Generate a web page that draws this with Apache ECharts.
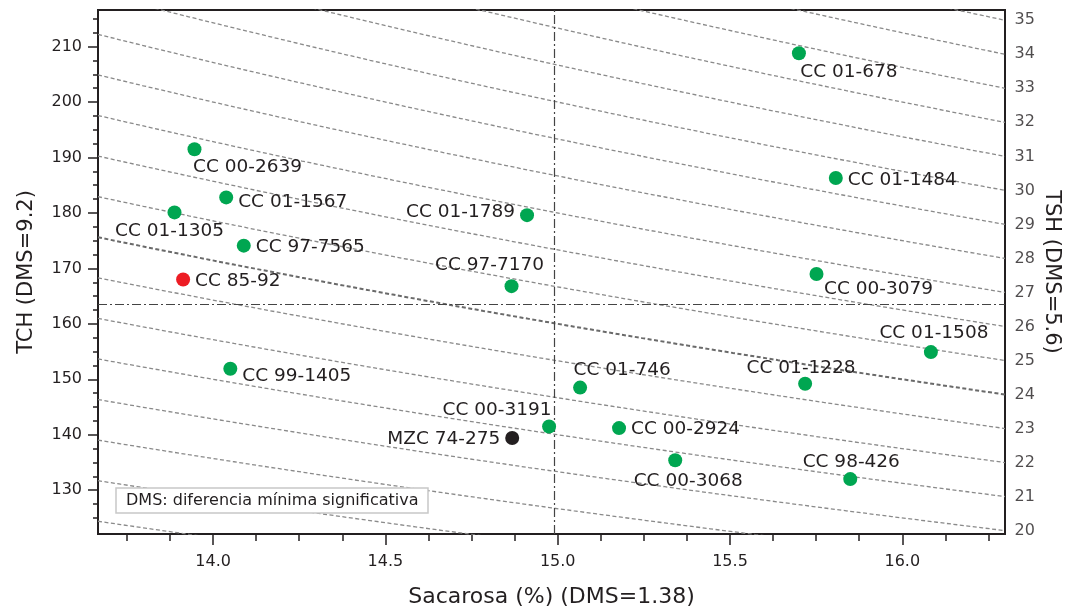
<!DOCTYPE html>
<html><head><meta charset="utf-8">
<script src="https://cdn.jsdelivr.net/npm/echarts@6/dist/echarts.min.js"></script>
<style>html,body{margin:0;padding:0;background:#fff}#c{width:1074px;height:613px}</style>
</head><body><div id="c"></div>
<script>
// ---------- DATA ----------
const varieties = ['CC 01-678','CC 00-2639','CC 01-1484','CC 01-1567','CC 01-1789','CC 01-1305','CC 97-7565','CC 97-7170','CC 00-3079','CC 85-92','CC 01-1508','CC 99-1405','CC 01-746','CC 01-1228','CC 00-3191','CC 00-2924','MZC 74-275','CC 00-3068','CC 98-426'];
const sacarosa  = [15.70, 13.946, 15.807, 14.038, 14.911, 13.888, 14.089, 14.866, 15.751, 13.913, 16.083, 14.050, 15.065, 15.718, 14.975, 15.178, 14.868, 15.341, 15.849];
const tch       = [208.8, 191.5, 186.3, 182.8, 179.6, 180.1, 174.1, 166.8, 169.0, 168.0, 154.9, 151.9, 148.5, 149.2, 141.5, 141.2, 139.4, 135.4, 132.0];
const tshLevels = [17,18,19,20,21,22,23,24,25,26,27,28,29,30,31,32,33,34,35];
const tshLabels = [20,21,22,23,24,25,26,27,28,29,30,31,32,33,34,35];
const xMajorTicks = [14.0,14.5,15.0,15.5,16.0];
const xMinorTicks = [13.75,13.875,14.125,14.25,14.375,14.625,14.75,14.875,15.125,15.25,15.375,15.625,15.75,15.875,16.125,16.25];
const yMajorTicks = [130,140,150,160,170,180,190,200,210];
const yMinorTicks = [125,127.5,132.5,135,137.5,142.5,145,147.5,152.5,155,157.5,162.5,165,167.5,172.5,175,177.5,182.5,185,187.5,192.5,195,197.5,202.5,205,207.5,212.5,215];
const meanSacarosa = 14.99;
const meanTCH = 163.5;
const xRange = [13.666, 16.298];
const yRange = [122.1, 216.6];

// ---------- STYLE ----------
const FONT = 'DejaVu Sans';
const TXT = '#231f20';
const pointColor = {'CC 85-92':'#ed1c24','MZC 74-275':'#231f20'};
const defaultColor = '#00a651';
const labelPlace = {
  'CC 01-678':  ['bottom',[50,-3]],
  'CC 00-2639': ['bottom',[53,-3]],
  'CC 01-1484': ['right',[0,2]],
  'CC 01-1567': ['right',[0,5]],
  'CC 01-1789': ['left',[0,-3]],
  'CC 01-1305': ['bottom',[-5,-3]],
  'CC 97-7565': ['right',[0,2]],
  'CC 97-7170': ['top',[-22,1]],
  'CC 00-3079': ['bottom',[62,-6]],
  'CC 85-92':   ['right',[0,2]],
  'CC 01-1508': ['top',[3,3]],
  'CC 99-1405': ['right',[0,7]],
  'CC 01-746':  ['top',[42,4]],
  'CC 01-1228': ['top',[-4,6]],
  'CC 00-3191': ['top',[-52,5]],
  'CC 00-2924': ['right',[0,1]],
  'MZC 74-275': ['left',[0,1]],
  'CC 00-3068': ['bottom',[13,-1]],
  'CC 98-426':  ['top',[1,5]]
};

// iso-TSH curves: TCH = TSH*100/Sacarosa
function isoCurve(t){
  const pts=[]; const n=40;
  for(let i=0;i<=n;i++){ const s=xRange[0]+(xRange[1]-xRange[0])*i/n; pts.push([s, t*100/s]); }
  return pts;
}
const isoSeries = tshLevels.map(t=>({
  type:'line', data:isoCurve(t), symbol:'none', silent:true, clip:true, z:1,
  lineStyle:{color: t===24?'#6a6a6a':'#8a8a8a', width: t===24?2:1.3, type:[4,2.5]}
}));

const points = varieties.map((n,i)=>({
  name:n, value:[sacarosa[i], tch[i]],
  itemStyle:{color: pointColor[n]||defaultColor, opacity:1},
  label:{position: labelPlace[n][0], offset: labelPlace[n][1]}
}));

const chart = echarts.init(document.getElementById('c'), null, {renderer:'canvas'});
chart.setOption({
  animation:false,
  textStyle:{fontFamily:FONT},
  grid:{left:98,right:69,top:10,bottom:78,show:true,borderColor:'#231f20',borderWidth:2,backgroundColor:'#fff'},
  title:{text:'DMS: diferencia mínima significativa', left:116, top:488, padding:[3,10,3,10],
    borderColor:'#c8c8c8', borderWidth:1.5, backgroundColor:'#fff',
    textStyle:{fontFamily:FONT, fontSize:16, fontWeight:'normal', color:TXT, lineHeight:19}},
  xAxis:[
    {type:'value', min:xRange[0], max:xRange[1], position:'bottom',
     name:'Sacarosa (%) (DMS=1.38)', nameLocation:'middle', nameGap:52,
     nameTextStyle:{fontFamily:FONT,fontSize:22,color:TXT},
     axisLine:{show:true,lineStyle:{color:'#231f20',width:2}},
     axisTick:{show:true,customValues:xMajorTicks,length:11,lineStyle:{color:'#231f20',width:1.5}},
     axisLabel:{customValues:xMajorTicks,formatter:v=>Number(v).toFixed(1),fontFamily:FONT,fontSize:16,color:TXT,margin:20},
     splitLine:{show:false}},
    {type:'value', min:xRange[0], max:xRange[1], position:'bottom',
     axisLine:{show:false},
     axisTick:{show:true,customValues:xMinorTicks,length:7,lineStyle:{color:'#231f20',width:1.5}},
     axisLabel:{show:false}, splitLine:{show:false}}
  ],
  yAxis:[
    {type:'value', min:yRange[0], max:yRange[1], position:'left',
     name:'TCH (DMS=9.2)', nameLocation:'middle', nameGap:61, nameRotate:90,
     nameTextStyle:{fontFamily:FONT,fontSize:21,color:TXT},
     axisLine:{show:true,lineStyle:{color:'#231f20',width:2}},
     axisTick:{show:true,customValues:yMajorTicks,length:10,lineStyle:{color:'#231f20',width:1.5}},
     axisLabel:{customValues:yMajorTicks,fontFamily:FONT,fontSize:16,color:TXT,margin:16},
     splitLine:{show:false}},
    {type:'value', min:yRange[0], max:yRange[1], position:'left',
     axisLine:{show:false},
     axisTick:{show:true,customValues:yMinorTicks,length:5,lineStyle:{color:'#231f20',width:1.5}},
     axisLabel:{show:false}, splitLine:{show:false}},
    {type:'value', min:yRange[0], max:yRange[1], position:'right',
     name:'TSH (DMS=5.6)', nameLocation:'middle', nameGap:36, nameRotate:-90,
     nameTextStyle:{fontFamily:FONT,fontSize:21,color:TXT},
     axisLine:{show:false}, axisTick:{show:false}, axisLabel:{show:false}, splitLine:{show:false}}
  ],
  series:[
    ...isoSeries,
    {type:'scatter', silent:true, clip:false, z:2, symbolSize:1, itemStyle:{color:'rgba(0,0,0,0)'},
     data: tshLabels.map(t=>[xRange[1], t*100/xRange[1], t]),
     label:{show:true, position:'right', distance:9, formatter:p=>p.value[2], fontFamily:FONT, fontSize:16, color:TXT}},
    {type:'scatter', z:5, symbolSize:14, data:points,
     label:{show:true, formatter:p=>p.name, fontFamily:FONT, fontSize:18.5, color:TXT, distance:5},
     markLine:{silent:true, symbol:'none', label:{show:false},
       lineStyle:{color:'#444', width:1.2, type:[9,3,2,3]},
       data:[{xAxis:meanSacarosa},{yAxis:meanTCH}]}}
  ]
});
</script></body></html>
